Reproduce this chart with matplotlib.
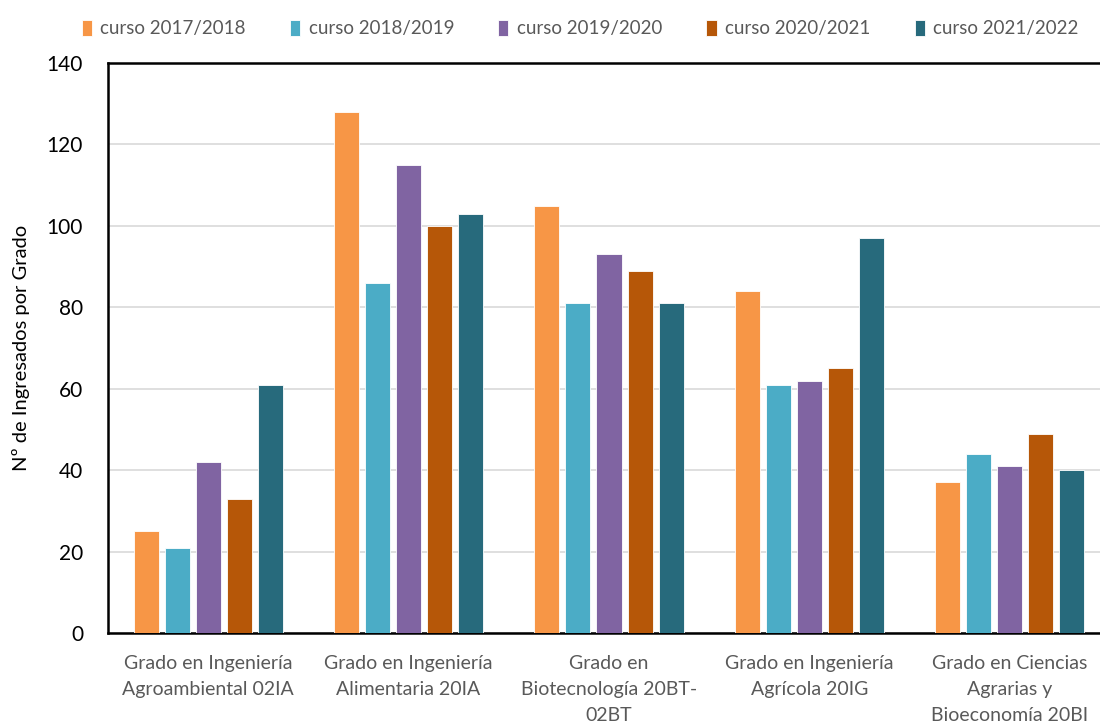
import matplotlib.pyplot as plt
import numpy as np

# Datos
grados = [
    "Grado en Ingeniería\nAgroambiental 02IA",
    "Grado en Ingeniería\nAlimentaria 20IA",
    "Grado en\nBiotecnología 20BT-\n02BT",
    "Grado en Ingeniería\nAgrícola 20IG",
    "Grado en Ciencias\nAgrarias y\nBioeconomía 20BI",
]
cursos = ["curso 2017/2018", "curso 2018/2019", "curso 2019/2020",
          "curso 2020/2021", "curso 2021/2022"]
curso_2017 = [25, 128, 105, 84, 37]
curso_2018 = [21, 86, 81, 61, 44]
curso_2019 = [42, 115, 93, 62, 41]
curso_2020 = [33, 100, 89, 65, 49]
curso_2021 = [61, 103, 81, 97, 40]
colores = ["#F79646", "#4BACC6", "#8064A2", "#B65708", "#276A7C"]

series = [curso_2017, curso_2018, curso_2019, curso_2020, curso_2021]

plt.rcParams['font.family'] = ['Lato', 'DejaVu Sans']

fig = plt.figure(figsize=(11, 7.28), dpi=100)
ax = fig.add_axes([108 / 1100, 95 / 728, 1002 / 1100, 570 / 728])

x = np.arange(len(grados))
ancho = 0.125
paso = 0.155
for i, (vals, lab, col) in enumerate(zip(series, cursos, colores)):
    ax.bar(x + (i - 2) * paso, vals, width=ancho, color=col, label=lab,
           edgecolor="white", linewidth=0.6, zorder=3)

ax.set_xlim(-0.5, len(grados) - 0.5)
ax.set_ylim(0, 140)
ax.set_yticks(range(0, 141, 20))
ax.yaxis.grid(True, color="#D9D9D9", linewidth=1.2, zorder=0)
ax.set_axisbelow(True)

for lado in ["left", "top", "bottom"]:
    ax.spines[lado].set_color("black")
    ax.spines[lado].set_linewidth(1.8)
ax.spines["right"].set_visible(False)

ax.set_xticks(x)
ax.set_xticklabels(grados, fontsize=14, color="#595959", linespacing=1.62,
                   va="top")
ax.tick_params(axis="x", length=0, pad=16)
ax.tick_params(axis="y", length=0, pad=18, labelsize=15, labelcolor="black")
ax.set_ylabel("Nº de Ingresados por Grado", fontsize=14.5, labelpad=12)

fig.legend(loc="upper left", bbox_to_anchor=(74 / 1100, 1 - 12 / 728),
           ncol=5, frameon=False, fontsize=13.5, labelcolor="#595959",
           handlelength=0.55, handleheight=1.0, handletextpad=0.45,
           columnspacing=2.35, borderaxespad=0)

fig.savefig("out.png", dpi=100)
